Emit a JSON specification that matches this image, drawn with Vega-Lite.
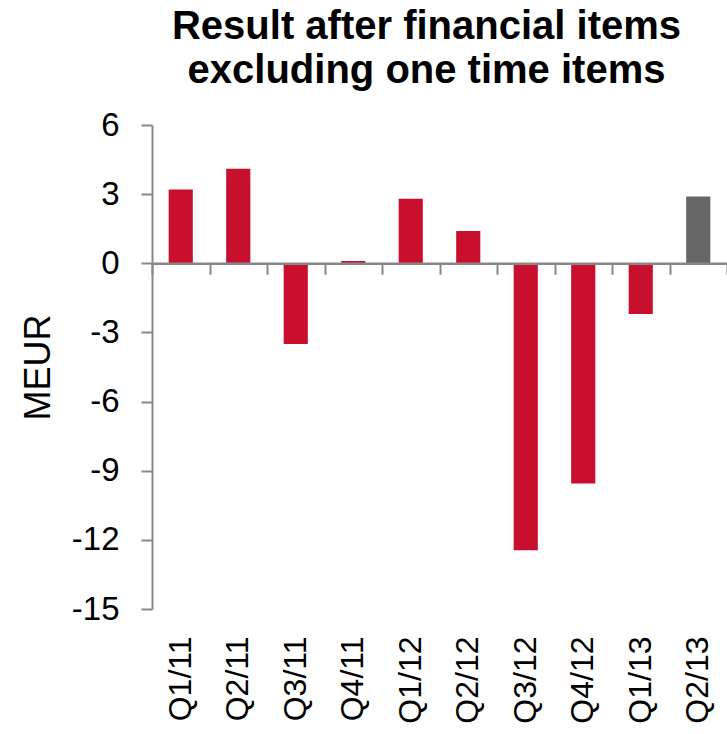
{
  "$schema": "https://vega.github.io/schema/vega-lite/v6.json",
  "width": 575,
  "height": 484,
  "autosize": {"type": "none"},
  "padding": {"left": 152, "top": 125, "right": 0, "bottom": 125},
  "config": {"font": "Liberation Sans", "view": {"stroke": null}},
  "title": {
    "text": ["Result after financial items", "excluding one time items"],
    "fontSize": 40,
    "fontWeight": "bold",
    "font": "Liberation Sans",
    "color": "black",
    "lineHeight": 44,
    "anchor": "middle",
    "dx": -13,
    "offset": 18
  },
  "data": {
    "values": [
      {"quarter": "Q1/11", "value": 3.2, "kind": "history"},
      {"quarter": "Q2/11", "value": 4.1, "kind": "history"},
      {"quarter": "Q3/11", "value": -3.5, "kind": "history"},
      {"quarter": "Q4/11", "value": 0.1, "kind": "history"},
      {"quarter": "Q1/12", "value": 2.8, "kind": "history"},
      {"quarter": "Q2/12", "value": 1.4, "kind": "history"},
      {"quarter": "Q3/12", "value": -12.45, "kind": "history"},
      {"quarter": "Q4/12", "value": -9.55, "kind": "history"},
      {"quarter": "Q1/13", "value": -2.2, "kind": "history"},
      {"quarter": "Q2/13", "value": 2.9, "kind": "latest"}
    ]
  },
  "layer": [
    {
      "mark": {"type": "bar"},
      "encoding": {
        "x": {
          "field": "quarter",
          "type": "nominal",
          "sort": null,
          "scale": {"paddingInner": 0.58, "paddingOuter": 0.29},
          "axis": {
            "orient": "bottom",
            "title": null,
            "labelAngle": -90,
            "labelFontSize": 32,
            "labelColor": "black",
            "labelPadding": 27,
            "ticks": false,
            "domain": false
          }
        },
        "y": {
          "field": "value",
          "type": "quantitative",
          "scale": {"domain": [-15, 6], "nice": false, "zero": false},
          "axis": {
            "title": "MEUR",
            "titleFontSize": 36,
            "titleFontWeight": "normal",
            "titleColor": "black",
            "titlePadding": 14,
            "values": [-15, -12, -9, -6, -3, 0, 3, 6],
            "labelExpr": "datum.value < 0 ? '-' + abs(datum.value) : '' + datum.value",
            "labelFontSize": 33,
            "labelColor": "black",
            "labelPadding": 22,
            "tickSize": 11,
            "tickWidth": 2,
            "tickColor": "#888888",
            "domainColor": "#888888",
            "domainWidth": 2,
            "grid": false
          }
        },
        "color": {
          "field": "kind",
          "type": "nominal",
          "scale": {"domain": ["history", "latest"], "range": ["#C8102E", "#666666"]},
          "legend": null
        }
      }
    },
    {
      "mark": {"type": "point", "opacity": 0},
      "encoding": {
        "x": {
          "field": "quarter",
          "type": "nominal",
          "sort": null,
          "scale": {"paddingInner": 0, "paddingOuter": 0},
          "axis": {
            "orient": "bottom",
            "title": null,
            "labels": false,
            "offset": -345.7,
            "tickBand": "extent",
            "tickSize": 11,
            "tickWidth": 2,
            "tickColor": "#888888",
            "domainColor": "#888888",
            "domainWidth": 2.5,
            "zindex": 1
          }
        },
        "y": {"datum": 0, "type": "quantitative"}
      }
    }
  ],
  "resolve": {"scale": {"x": "independent"}, "axis": {"x": "independent"}}
}
